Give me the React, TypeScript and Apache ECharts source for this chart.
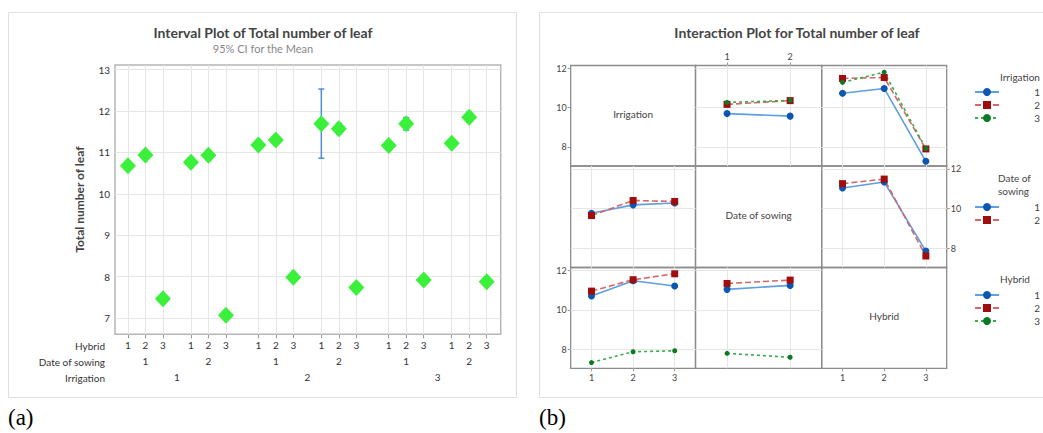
import React, { useEffect, useRef } from 'react';
import * as echarts from 'echarts';

// ---------- data ----------
const hybridLevels = ['1', '2', '3'];
const sowingLevels = ['1', '2'];
const irrigationLevels = ['1', '2', '3'];

// (a) Interval plot: order Irrigation > Date of sowing > Hybrid
const intervalMeans = [10.68, 10.94, 7.47, 10.76, 10.93, 7.07, 11.18, 11.3, 7.99, 11.69, 11.57, 7.74, 11.17, 11.69, 7.92, 11.22, 11.85, 7.88];
const intervalLow = [10.6, 10.86, 7.39, 10.68, 10.83, 6.99, 11.1, 11.22, 7.91, 10.86, 11.45, 7.66, 11.09, 11.54, 7.84, 11.14, 11.73, 7.8];
const intervalHigh = [10.76, 11.02, 7.55, 10.84, 11.04, 7.15, 11.26, 11.38, 8.07, 12.53, 11.7, 7.82, 11.25, 11.84, 8.0, 11.3, 11.97, 7.96];
const yTicksA = [7, 8, 9, 10, 11, 12, 13];

// (b) Interaction plot
const irrBySowing = [[9.7, 9.57], [10.17, 10.36], [10.27, 10.37]];
const irrByHybrid = [[10.74, 10.98, 7.27], [11.49, 11.54, 7.9], [11.29, 11.81, 7.92]];
const sowingByIrr = [[9.77, 10.19, 10.28], [9.65, 10.41, 10.36]];
const sowingByHybrid = [[11.04, 11.34, 7.86], [11.26, 11.49, 7.61]];
const hybridByIrr = [[10.7, 11.48, 11.21], [10.95, 11.53, 11.83], [7.32, 7.87, 7.92]];
const hybridBySowing = [[11.04, 11.24], [11.34, 11.51], [7.79, 7.59]];
const yTicksB = [8, 10, 12];

const FONT = 'Lato, "Open Sans", sans-serif';

export default function App() {
  const ref = useRef<HTMLDivElement>(null);

  useEffect(() => {
    const chart = echarts.init(ref.current!, null, { renderer: 'svg' });

    // positions of the 18 interval points on the x value axis
    const xPos: number[] = [];
    const hybLab: Record<string, string> = {};
    intervalMeans.forEach((_, i) => {
      const r = Math.floor(i / 6);
      const d = Math.floor(i / 3) % 2;
      const h = i % 3;
      const p = h + d * 3.6 + r * 7.45;
      xPos.push(p);
      hybLab[p.toFixed(3)] = hybridLevels[h];
    });
    const dateCenters: number[] = [];
    const dateLab: Record<string, string> = {};
    irrigationLevels.forEach((_, r) =>
      sowingLevels.forEach((s, d) => {
        const p = 1 + d * 3.6 + r * 7.45;
        dateCenters.push(p);
        dateLab[p.toFixed(3)] = s;
      })
    );
    const irrCenters: number[] = [];
    const irrLab: Record<string, string> = {};
    irrigationLevels.forEach((s, r) => {
      const p = 1 + 1.8 + r * 7.45;
      irrCenters.push(p);
      irrLab[p.toFixed(3)] = s;
    });

    const XMIN = -0.74, XMAX = 21.3;
    const grids: any[] = [{ left: 115, top: 65, width: 385.7, height: 269.3, show: true, borderColor: '#b5b5b5', borderWidth: 1.5 }];
    const xAxes: any[] = [
      {
        type: 'value', gridIndex: 0, position: 'bottom', min: XMIN, max: XMAX, splitLine: { show: false }, axisLine: { show: false },
        axisTick: { show: true, customValues: xPos, length: 4, lineStyle: { color: '#999' } },
        axisLabel: { customValues: xPos, formatter: (v: number) => hybLab[v.toFixed(3)] ?? '', fontSize: 10, color: '#333', margin: 6, fontFamily: FONT },
      },
      {
        type: 'value', gridIndex: 0, position: 'bottom', min: XMIN, max: XMAX, offset: 16, splitLine: { show: false }, axisLine: { show: false }, axisTick: { show: false },
        axisLabel: { customValues: dateCenters, formatter: (v: number) => dateLab[v.toFixed(3)] ?? '', fontSize: 10, color: '#333', margin: 6, fontFamily: FONT },
      },
      {
        type: 'value', gridIndex: 0, position: 'bottom', min: XMIN, max: XMAX, offset: 32, splitLine: { show: false }, axisLine: { show: false }, axisTick: { show: false },
        axisLabel: { customValues: irrCenters, formatter: (v: number) => irrLab[v.toFixed(3)] ?? '', fontSize: 10, color: '#333', margin: 6, fontFamily: FONT },
      },
    ];
    const yAxes: any[] = [
      {
        type: 'value', gridIndex: 0, min: 6.61, max: 13.11, splitLine: { show: false }, axisLine: { show: false },
        axisTick: { show: true, customValues: yTicksA, length: 3, lineStyle: { color: '#999' } },
        axisLabel: { customValues: yTicksA, fontSize: 10, color: '#333', margin: 5, fontFamily: FONT },
        name: 'Total number of leaf', nameLocation: 'middle', nameGap: 30, nameRotate: 90,
        nameTextStyle: { fontSize: 12, fontWeight: 'bold', color: '#444', fontFamily: FONT },
      },
    ];
    const series: any[] = [
      {
        type: 'line', xAxisIndex: 0, yAxisIndex: 0, data: [], silent: true,
        markLine: {
          silent: true, symbol: ['none', 'none'], label: { show: false }, animation: false,
          lineStyle: { color: '#e6e6e6', width: 1, type: 'solid' },
          data: [...xPos.map((v) => ({ xAxis: v })), ...yTicksA.map((v) => ({ yAxis: v }))],
        },
      },
      {
        type: 'custom', xAxisIndex: 0, yAxisIndex: 0, z: 9, silent: true,
        data: xPos.map((p, i) => [p, intervalLow[i], intervalHigh[i]]),
        renderItem: (params: any, api: any) => {
          const x = api.value(0);
          const lo = api.coord([x, api.value(1)]);
          const hi = api.coord([x, api.value(2)]);
          const st = { stroke: '#4f8fd6', lineWidth: 1.5 };
          return {
            type: 'group',
            children: [
              { type: 'line', shape: { x1: lo[0], y1: lo[1], x2: hi[0], y2: hi[1] }, style: st },
              { type: 'line', shape: { x1: lo[0] - 3, y1: lo[1], x2: lo[0] + 3, y2: lo[1] }, style: st },
              { type: 'line', shape: { x1: hi[0] - 3, y1: hi[1], x2: hi[0] + 3, y2: hi[1] }, style: st },
            ],
          };
        },
      },
      {
        type: 'scatter', xAxisIndex: 0, yAxisIndex: 0, z: 10, symbol: 'diamond', symbolSize: [16, 17],
        itemStyle: { color: '#3af03a', opacity: 1 },
        data: xPos.map((p, i) => [p, intervalMeans[i]]),
      },
    ];

    // ---------- (b) matrix ----------
    const colX = [570.7, 695.5, 821.7, 946.7];
    const rowY = [65.5, 166, 267.5, 368.3];
    const colCats = [irrigationLevels, sowingLevels, hybridLevels];
    const cells: any[] = [
      { diag: 'Irrigation' }, { trace: 'Irrigation', data: irrBySowing }, { trace: 'Irrigation', data: irrByHybrid },
      { trace: 'Date of sowing', data: sowingByIrr }, { diag: 'Date of sowing' }, { trace: 'Date of sowing', data: sowingByHybrid },
      { trace: 'Hybrid', data: hybridByIrr }, { trace: 'Hybrid', data: hybridBySowing }, { diag: 'Hybrid' },
    ];
    const xLabelPos: Record<string, string> = { '0,1': 'top', '2,0': 'bottom', '2,2': 'bottom' };
    const yLabelPos: Record<string, string> = { '0,0': 'left', '2,0': 'left', '1,2': 'right' };
    const traceStyles = [
      { symbol: 'circle', symbolSize: 7, color: '#0b56b0', line: '#5f9ee0', type: 'solid' as any },
      { symbol: 'rect', symbolSize: 7, color: '#a00d0d', line: '#d46868', type: [6, 3] },
      { symbol: 'circle', symbolSize: 5, color: '#0a7a25', line: '#3aac4e', type: [3, 3] },
    ];
    const graphics: any[] = [];

    cells.forEach((cell, g) => {
      const r = Math.floor(g / 3), c = g % 3;
      const key = `${r},${c}`;
      const gi = g + 1;
      const xi = g + 3;
      const yi = g + 1;
      grids.push({
        left: colX[c], top: rowY[r], width: colX[c + 1] - colX[c], height: rowY[r + 1] - rowY[r],
        show: true, borderColor: '#8c8c8c', borderWidth: 1.3,
      });
      const xp = xLabelPos[key];
      xAxes.push({
        type: 'category', gridIndex: gi, data: colCats[c], position: xp === 'top' ? 'top' : 'bottom',
        axisLine: { show: false }, splitLine: { show: false },
        axisTick: { show: !!xp, alignWithLabel: true, length: 3, lineStyle: { color: '#999' } },
        axisLabel: { show: !!xp, fontSize: 9, color: '#444', margin: 5, fontFamily: FONT },
      });
      const yp = yLabelPos[key];
      yAxes.push({
        type: 'value', gridIndex: gi, min: 7.03, max: 12.15, position: yp === 'right' ? 'right' : 'left',
        axisLine: { show: false }, splitLine: { show: false },
        axisTick: { show: !!yp, customValues: yTicksB, length: 3, lineStyle: { color: '#999' } },
        axisLabel: { show: !!yp, customValues: yTicksB, fontSize: 9, color: '#444', margin: 4, fontFamily: FONT },
      });
      if (cell.diag) {
        graphics.push({
          type: 'text', x: (colX[c] + colX[c + 1]) / 2, y: (rowY[r] + rowY[r + 1]) / 2 - 2,
          style: { text: cell.diag, fontSize: 10, fill: '#444', fontFamily: FONT, textAlign: 'center', textVerticalAlign: 'middle' },
        });
        return;
      }
      series.push({
        type: 'line', xAxisIndex: xi, yAxisIndex: yi, data: [], silent: true,
        markLine: {
          silent: true, symbol: ['none', 'none'], label: { show: false }, animation: false,
          lineStyle: { color: '#e6e6e6', width: 1, type: 'solid' },
          data: [...colCats[c].map((_: string, k: number) => ({ xAxis: k })), ...yTicksB.map((v) => ({ yAxis: v }))],
        },
      });
      (cell.data as number[][]).forEach((vals, k) => {
        const s = traceStyles[k];
        series.push({
          type: 'line', name: `${cell.trace} ${k + 1}`, xAxisIndex: xi, yAxisIndex: yi, z: 10,
          data: vals, symbol: s.symbol, symbolSize: s.symbolSize, showSymbol: true,
          itemStyle: { color: s.color, borderWidth: 0 },
          lineStyle: { color: s.line, width: 1.6, type: s.type },
        });
      });
    });

    const legendBase = (names: string[], top: number) => ({
      data: names, orient: 'vertical', left: 969, top, itemWidth: 24, itemHeight: 10, itemGap: 3,
      selectedMode: false,
      formatter: (n: string) => `{a|${n.split(' ').pop()}}`,
      textStyle: { fontFamily: FONT, color: '#444', rich: { a: { width: 36, align: 'right', fontSize: 10, fontFamily: FONT, color: '#444' } } },
    });

    graphics.push(
      { type: 'rect', shape: { x: 8.5, y: 12.5, width: 508, height: 385 }, style: { fill: 'none', stroke: '#e0e0e0', lineWidth: 1 } },
      { type: 'rect', shape: { x: 539.5, y: 12.5, width: 520, height: 385 }, style: { fill: 'none', stroke: '#e0e0e0', lineWidth: 1 } },
      { type: 'text', x: 263, y: 32, style: { text: 'Interval Plot of Total number of leaf', fontSize: 14, fontWeight: 'bold', fill: '#444', fontFamily: FONT, textAlign: 'center', textVerticalAlign: 'middle' } },
      { type: 'text', x: 263, y: 48, style: { text: '95% CI for the Mean', fontSize: 11, fill: '#888', fontFamily: FONT, textAlign: 'center', textVerticalAlign: 'middle' } },
      { type: 'text', x: 797, y: 32, style: { text: 'Interaction Plot for Total number of leaf', fontSize: 14, fontWeight: 'bold', fill: '#444', fontFamily: FONT, textAlign: 'center', textVerticalAlign: 'middle' } },
      { type: 'text', x: 105, y: 346, style: { text: 'Hybrid', fontSize: 10, fill: '#333', fontFamily: FONT, textAlign: 'right', textVerticalAlign: 'middle' } },
      { type: 'text', x: 105, y: 362, style: { text: 'Date of sowing', fontSize: 10, fill: '#333', fontFamily: FONT, textAlign: 'right', textVerticalAlign: 'middle' } },
      { type: 'text', x: 105, y: 378, style: { text: 'Irrigation', fontSize: 10, fill: '#333', fontFamily: FONT, textAlign: 'right', textVerticalAlign: 'middle' } },
      { type: 'text', x: 1000, y: 77, style: { text: 'Irrigation', fontSize: 10, fill: '#444', fontFamily: FONT, textAlign: 'left', textVerticalAlign: 'middle' } },
      { type: 'text', x: 998, y: 178, style: { text: 'Date of', fontSize: 10, fill: '#444', fontFamily: FONT, textAlign: 'left', textVerticalAlign: 'middle' } },
      { type: 'text', x: 998, y: 191, style: { text: 'sowing', fontSize: 10, fill: '#444', fontFamily: FONT, textAlign: 'left', textVerticalAlign: 'middle' } },
      { type: 'text', x: 1000, y: 279, style: { text: 'Hybrid', fontSize: 10, fill: '#444', fontFamily: FONT, textAlign: 'left', textVerticalAlign: 'middle' } },
      { type: 'text', x: 8, y: 417, style: { text: '(a)', fontSize: 23, fill: '#000', fontFamily: '"Liberation Serif", serif', textAlign: 'left', textVerticalAlign: 'middle' } },
      { type: 'text', x: 539, y: 417, style: { text: '(b)', fontSize: 23, fill: '#000', fontFamily: '"Liberation Serif", serif', textAlign: 'left', textVerticalAlign: 'middle' } }
    );

    chart.setOption({
      animation: false,
      backgroundColor: '#ffffff',
      textStyle: { fontFamily: FONT },
      grid: grids,
      xAxis: xAxes,
      yAxis: yAxes,
      legend: [
        legendBase(irrigationLevels.map((l) => `Irrigation ${l}`), 82),
        legendBase(sowingLevels.map((l) => `Date of sowing ${l}`), 197),
        legendBase(hybridLevels.map((l) => `Hybrid ${l}`), 285),
      ],
      series,
      graphic: graphics,
    });
    return () => chart.dispose();
  }, []);

  return <div ref={ref} style={{ position: 'absolute', left: 0, top: 0, width: 1043, height: 433, background: '#fff' }} />;
}
